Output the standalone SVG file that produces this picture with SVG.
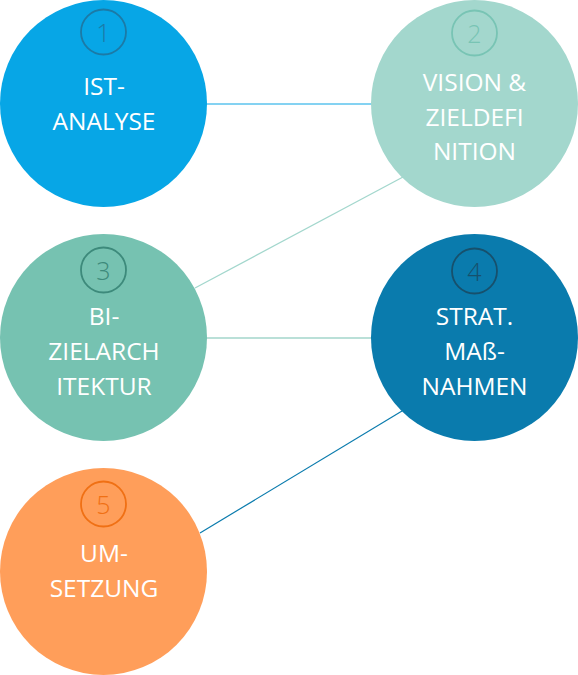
<svg xmlns="http://www.w3.org/2000/svg" width="578" height="675" viewBox="0 0 578 675">
<style>
.lbl{font-family:"Open Sans","Noto Sans","DejaVu Sans",sans-serif;font-size:24.5px;fill:#ffffff;text-anchor:middle}
.num{font-family:"Open Sans","Noto Sans","DejaVu Sans",sans-serif;font-size:25px;font-weight:300;text-anchor:middle}
.ring{fill:none;stroke-width:1.8}
.con{stroke-width:1.2;fill:none}
</style>
<rect width="578" height="675" fill="#ffffff"/>
<g id="connectors">
<line class="con" x1="206" y1="104" x2="372" y2="104" stroke="#0aa5e6"/>
<line class="con" x1="403" y1="177" x2="195" y2="288" stroke="#a3d7cd"/>
<line class="con" x1="206" y1="338" x2="372" y2="338" stroke="#76c2b1"/>
<line class="con" x1="402" y1="411" x2="200" y2="533" stroke="#0a7bad"/>
</g>
<g id="node1">
<circle cx="103.5" cy="103.5" r="103.5" fill="#07a6e6"/>
<circle class="ring" cx="103.5" cy="32" r="22.5" stroke="#1c7aa6"/>
<text class="num" x="103.5" y="42" fill="#1c7aa6">1</text>
<text class="lbl" x="104" y="95">IST-</text>
<text class="lbl" x="104" y="130">ANALYSE</text>
</g>
<g id="node2">
<circle cx="474.5" cy="103.5" r="103.5" fill="#a3d7cd"/>
<circle class="ring" cx="474.5" cy="33" r="22.5" stroke="#78c4b4"/>
<text class="num" x="474.5" y="43" fill="#78c4b4">2</text>
<text class="lbl" x="474.5" y="91">VISION &amp;</text>
<text class="lbl" x="474.5" y="126">ZIELDEFI</text>
<text class="lbl" x="474.5" y="160">NITION</text>
</g>
<g id="node3">
<circle cx="103.5" cy="337.5" r="103.5" fill="#76c2b1"/>
<circle class="ring" cx="103.5" cy="270" r="22.5" stroke="#3d8a7b"/>
<text class="num" x="103.5" y="280" fill="#3d8a7b">3</text>
<text class="lbl" x="104" y="325">BI-</text>
<text class="lbl" x="104" y="360">ZIELARCH</text>
<text class="lbl" x="104" y="395">ITEKTUR</text>
</g>
<g id="node4">
<circle cx="474.5" cy="337.5" r="103.5" fill="#0a7bad"/>
<circle class="ring" cx="474.5" cy="271" r="22.5" stroke="#17506c"/>
<text class="num" x="474.5" y="281" fill="#17506c">4</text>
<text class="lbl" x="474.5" y="325">STRAT.</text>
<text class="lbl" x="474.5" y="360">MAß-</text>
<text class="lbl" x="474.5" y="395">NAHMEN</text>
</g>
<g id="node5">
<circle cx="103.5" cy="571.5" r="103.5" fill="#ff9e5a"/>
<circle class="ring" cx="103.5" cy="504" r="22.5" stroke="#f07014"/>
<text class="num" x="103.5" y="514" fill="#f07014">5</text>
<text class="lbl" x="104" y="562">UM-</text>
<text class="lbl" x="104" y="597">SETZUNG</text>
</g>
</svg>
